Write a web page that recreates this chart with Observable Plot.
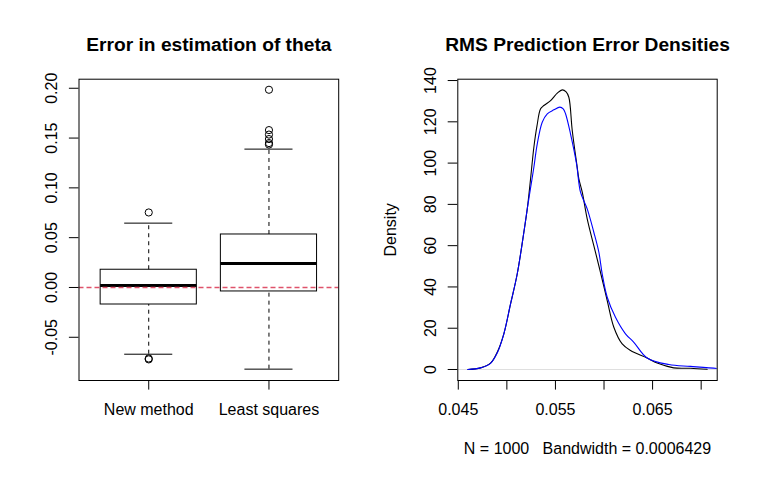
<!DOCTYPE html>
<html><head><meta charset="utf-8">
<script src="https://cdn.jsdelivr.net/npm/d3@7"></script>
<script src="https://cdn.jsdelivr.net/npm/@observablehq/plot@0.6"></script>
<style>
html,body{margin:0;padding:0;background:#fff;}
#wrap{display:flex;width:757px;height:478px;overflow:hidden;}
</style></head><body><div id="wrap"></div>
<script>
// ---- Left panel: boxplot data ----
const boxTitle = "Error in estimation of theta";
const boxCategories = ["New method", "Least squares"];
const boxQ1 = [-0.0171, -0.0040];
const boxMedian = [0.0020, 0.0241];
const boxQ3 = [0.0178, 0.0532];
const whiskerLow = [-0.0670, -0.0820];
const whiskerHigh = [0.0646, 0.1389];
const outliersNew = [0.0753, -0.0713, -0.0722];
const outliersLS = [0.1985, 0.1580, 0.1535, 0.1490, 0.1450, 0.1435];
const boxYTicks = [-0.05, 0, 0.05, 0.10, 0.15, 0.20];
const refLine = [0];

// ---- Right panel: density data ----
const densTitle = "RMS Prediction Error Densities";
const densSub = "N = 1000   Bandwidth = 0.0006429";
const densYLabel = "Density";
const blackX = [0.04599,0.04729,0.04832,0.04901,0.04969,0.05038,0.05107,0.05175,0.05210,0.05244,0.05278,0.05310,0.05347,0.05381,0.05450,0.05519,0.05570,0.05610,0.05638,0.05673,0.05724,0.05741,0.05776,0.05827,0.05895,0.05964,0.06033,0.06101,0.06187,0.06273,0.06444,0.06547,0.06718,0.06890,0.07062];
const blackY = [0,0.8,3.1,8.4,17.3,31.8,46.4,66.5,77.8,92.4,107.7,118,126.3,127.9,130.3,133.9,135.5,134.5,131.9,115.8,98,92.4,85.9,73,60,47,33.4,20.5,12.4,9.2,5.6,3.1,0.8,0.6,0.1];
const blueX = [0.04599,0.04729,0.04832,0.04901,0.04969,0.05038,0.05107,0.05175,0.05210,0.05244,0.05278,0.05313,0.05364,0.05416,0.05484,0.05545,0.05580,0.05604,0.05655,0.05717,0.05758,0.05827,0.05895,0.05947,0.05981,0.06033,0.06118,0.06221,0.06307,0.06444,0.06667,0.06890,0.07165,0.07300];
const blueY = [0,0.8,3.0,8.0,17.3,31.8,46.4,66.5,77.8,88,98,109.3,119.8,123.9,125.8,127.1,126.3,123.9,114.2,99.7,85.9,77.8,66.5,56.8,46.4,35,25.3,17.3,13.2,5.6,2.4,1.5,0.5,0.3];
const densXTicks = [0.045,0.050,0.055,0.060,0.065,0.070];
const densXLabels = ["0.045","","0.055","","0.065",""];
const densYTicks = [0,20,40,60,80,100,120,140];

const FONT = "'Liberation Sans', Arial, Helvetica, sans-serif";
const TICK = 9.6;
const RED = "rgb(223, 83, 107)";

const boxes = boxCategories.map((name, i) => ({
  name, pos: i + 1, q1: boxQ1[i], med: boxMedian[i], q3: boxQ3[i], lo: whiskerLow[i], hi: whiskerHigh[i]
}));
const outs = [
  ...outliersNew.map(v => ({pos: 1, v})),
  ...outliersLS.map(v => ({pos: 2, v}))
];

const left = Plot.plot({
  width: 378, height: 478,
  marginLeft: 78.5, marginRight: 39.8, marginTop: 78.7, marginBottom: 98,
  style: {fontFamily: FONT, fontSize: "16px", background: "white", color: "black", overflow: "visible"},
  x: {type: "linear", domain: [0.42, 2.58]},
  y: {domain: [-0.0934, 0.2091]},
  marks: [
    Plot.ruleX(boxes, {x: "pos", y1: "q3", y2: "hi", stroke: "black", strokeDasharray: "4,4"}),
    Plot.ruleX(boxes, {x: "pos", y1: "lo", y2: "q1", stroke: "black", strokeDasharray: "4,4"}),
    Plot.ruleY(boxes, {y: "hi", x1: d => d.pos - 0.2, x2: d => d.pos + 0.2, stroke: "black"}),
    Plot.ruleY(boxes, {y: "lo", x1: d => d.pos - 0.2, x2: d => d.pos + 0.2, stroke: "black"}),
    Plot.rect(boxes, {x1: d => d.pos - 0.4, x2: d => d.pos + 0.4, y1: "q1", y2: "q3", fill: "none", stroke: "black"}),
    Plot.ruleY(boxes, {y: "med", x1: d => d.pos - 0.4, x2: d => d.pos + 0.4, stroke: "black", strokeWidth: 3}),
    Plot.dot(outs, {x: "pos", y: "v", r: 3.6, stroke: "black", fill: "none", strokeWidth: 1}),
    Plot.ruleY(refLine, {y: d => d, stroke: RED, strokeWidth: 1.5, strokeDasharray: "5,3"}),
    Plot.frame({stroke: "black"}),
    Plot.axisY({ticks: boxYTicks, tickFormat: d => d.toFixed(2), tickRotate: -90, tickSize: TICK, tickPadding: 12, label: null, fontSize: 16}),
    Plot.axisX({ticks: [1, 2], tickFormat: d => boxCategories[d - 1], tickSize: TICK, tickPadding: 14, label: null, fontSize: 16}),
    Plot.text([boxTitle], {frameAnchor: "top", dy: -28.2, lineAnchor: "bottom", textAnchor: "middle", fontWeight: "bold", fontSize: 19.2})
  ]
});

const dens = [
  ...blackX.map((x, i) => ({x, y: blackY[i], s: "black"})),
  ...blueX.map((x, i) => ({x, y: blueY[i], s: "blue"}))
];

const right = Plot.plot({
  width: 379, height: 478,
  marginLeft: 79.3, marginRight: 40.3, marginTop: 78.7, marginBottom: 98,
  style: {fontFamily: FONT, fontSize: "16px", background: "white", color: "black", overflow: "visible"},
  x: {domain: [0.04495, 0.07165]},
  y: {domain: [-5.33, 140.65]},
  marks: [
    Plot.ruleY([0], {stroke: "#bebebe", strokeWidth: 0.5}),
    Plot.line(dens.filter(d => d.s === "black"), {x: "x", y: "y", stroke: "black", strokeWidth: 1.1, curve: "catmull-rom", clip: true}),
    Plot.line(dens.filter(d => d.s === "blue"), {x: "x", y: "y", stroke: "#0000ff", strokeWidth: 1.1, curve: "catmull-rom", clip: true}),
    Plot.frame({stroke: "black"}),
    Plot.axisY({ticks: densYTicks, tickFormat: d => String(d), tickRotate: -90, tickSize: TICK, tickPadding: 12, label: null, fontSize: 16}),
    Plot.axisX({ticks: densXTicks, tickFormat: (d, i) => densXLabels[i], tickSize: TICK, tickPadding: 14, label: null, fontSize: 16}),
    Plot.text([densTitle], {frameAnchor: "top", dy: -28.2, lineAnchor: "bottom", textAnchor: "middle", fontWeight: "bold", fontSize: 19.2}),
    Plot.text([densSub], {frameAnchor: "bottom", dy: 73, lineAnchor: "bottom", textAnchor: "middle", fontSize: 16}),
    Plot.text([densYLabel], {frameAnchor: "left", dx: -62, rotate: -90, lineAnchor: "bottom", textAnchor: "middle", fontSize: 16})
  ]
});

const wrap = document.getElementById("wrap");
wrap.appendChild(left);
wrap.appendChild(right);
</script></body></html>
